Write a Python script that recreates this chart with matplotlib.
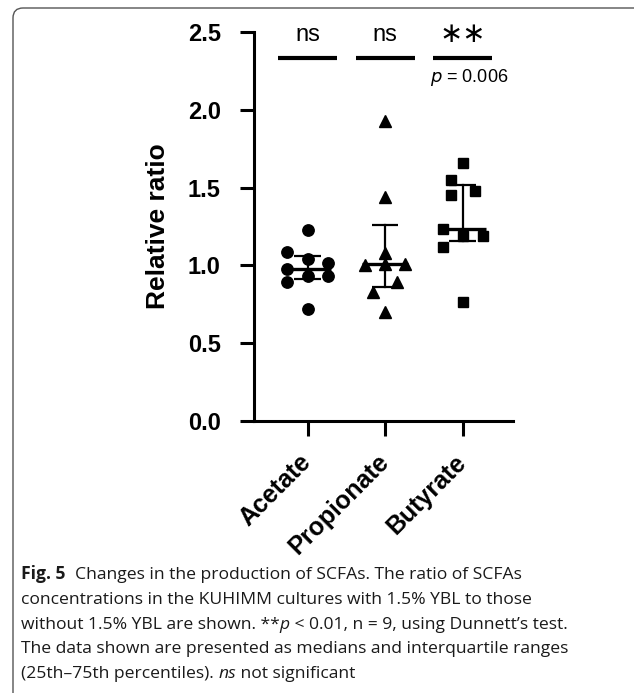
import numpy as np
import matplotlib
matplotlib.use("Agg")
import matplotlib.pyplot as plt
from matplotlib.patches import FancyBboxPatch
from matplotlib.transforms import ScaledTranslation

# data
groups = ["Acetate", "Propionate", "Butyrate"]
acetate = [1.228, 1.085, 1.042, 1.018, 0.977, 0.932, 0.932, 0.896, 0.718]
propionate = [1.925, 1.439, 1.078, 1.005, 1.010, 1.010, 0.896, 0.832, 0.703]
butyrate = [1.657, 1.550, 1.481, 1.453, 1.233, 1.190, 1.190, 1.121, 0.767]
sig_labels = ["ns", "ns", "\u2217\u2217"]
p_text = "= 0.006"
yticks = [0.0, 0.5, 1.0, 1.5, 2.0, 2.5]

# horizontal scatter of points (pixels in the original), layout only
jitter_px = [
    [0, -20.7, 0, 20, -20.7, 0, 20, -20.7, 0],
    [0, 0, 0, -20, 0, 20, 11.7, -11.7, 0],
    [0, -12, 12.3, -12, -20, 0, 20, -20, 0],
]
markers = ["o", "^", "s"]
msizes = [8.2, 9.0, 7.8]

W, H = 634, 693
fig = plt.figure(figsize=(W / 100, H / 100), dpi=100)
ax = fig.add_axes([254 / W, 1 - 421 / H, (513 - 254) / W, (421 - 32) / H])

bold = dict(family="Liberation Sans", weight="bold", size=17)
unit = 77.5  # pixels per category

for i, vals in enumerate([acetate, propionate, butyrate]):
    vals = np.array(vals)
    xs = i + np.array(jitter_px[i]) / unit
    ax.plot(xs, vals, linestyle="none", marker=markers[i], ms=msizes[i],
            color="black", mec="black", zorder=3, clip_on=False)
    med = np.median(vals)
    q1, q3 = np.percentile(vals, [25, 75], method="weibull")
    ax.plot([i - 0.30, i + 0.30], [med, med], color="black", lw=2.4,
            zorder=4, solid_capstyle="butt")
    ax.plot([i, i], [q1, q3], color="black", lw=1.6, zorder=4)
    for q in (q1, q3):
        ax.plot([i - 0.17, i + 0.17], [q, q], color="black", lw=1.6,
                zorder=4, solid_capstyle="butt")

# significance bars and labels
for i, lab in enumerate(sig_labels):
    ax.plot([i - 0.38, i + 0.38], [2.33, 2.33], color="black", lw=3.0,
            clip_on=False, solid_capstyle="butt")
    if lab == "ns":
        ax.text(i, 2.48, lab, ha="center", va="center", fontsize=17,
                family="Liberation Sans", clip_on=False)
    else:
        ax.text(i, 2.49, lab, ha="center", va="center", fontsize=20,
                family="DejaVu Sans", clip_on=False)
ax.text(2.09, 2.205, r"$\it{p}$ " + p_text, ha="center", va="center",
        fontsize=13, family="Liberation Sans")

ax.set_xlim(-0.69, 2.65)
ax.set_ylim(0, 2.5)
ax.set_xticks(range(len(groups)))
ax.set_xticklabels(groups, rotation=45, ha="right", va="center",
                   rotation_mode="anchor", family="Liberation Sans",
                   weight="bold", size=18)
shift = ScaledTranslation(-6 / 72, -2 / 72, fig.dpi_scale_trans)
for lbl in ax.get_xticklabels():
    lbl.set_transform(lbl.get_transform() + shift)
ax.set_yticks(yticks)
ax.set_yticklabels([f"{t:.1f}" for t in yticks], fontdict=bold)
ax.set_ylabel("Relative ratio", family="Liberation Sans", weight="bold",
              size=19, labelpad=13)
for s in ["top", "right"]:
    ax.spines[s].set_visible(False)
for s in ["left", "bottom"]:
    ax.spines[s].set_linewidth(2.2)
ax.tick_params(axis="y", length=10, width=2.2, pad=14)
ax.tick_params(axis="x", length=11, width=2.2, pad=16)

# framed panel with rounded top-left corner
box = FancyBboxPatch((13, -40), 640, H - 8 + 40, transform=None,
                     boxstyle="round,pad=0,rounding_size=10",
                     fill=False, edgecolor="#555555", lw=1.0)
fig.patches.append(box)

# caption, drawn piece by piece for mixed styles
cap_font = "Open Sans"
cap_size = 12.6
lines = [
    [("Fig. 5", "bold"), ("  Changes in the production of SCFAs. The ratio of SCFAs", "normal")],
    [("concentrations in the KUHIMM cultures with 1.5% YBL to those", "normal")],
    [("without 1.5% YBL are shown. **", "normal"), ("p", "italic"),
     (" < 0.01, n = 9, using Dunnett\u2019s test.", "normal")],
    [("The data shown are presented as medians and interquartile ranges", "normal")],
    [("(25th\u201375th percentiles). ", "normal"), ("ns", "italic"), (" not significant", "normal")],
]
renderer = fig.canvas.get_renderer()
y0 = 579
for k, pieces in enumerate(lines):
    x = 21
    y = H - (y0 + k * 24.8)
    for txt, sty in pieces:
        t = fig.text(x / W, y / H, txt, fontsize=cap_size, family=cap_font,
                     weight="bold" if sty == "bold" else "normal",
                     style="italic" if sty == "italic" else "normal",
                     va="baseline", ha="left", color="#1a1a1a")
        bb = t.get_window_extent(renderer)
        x += bb.width

fig.savefig("out.png", dpi=100)
